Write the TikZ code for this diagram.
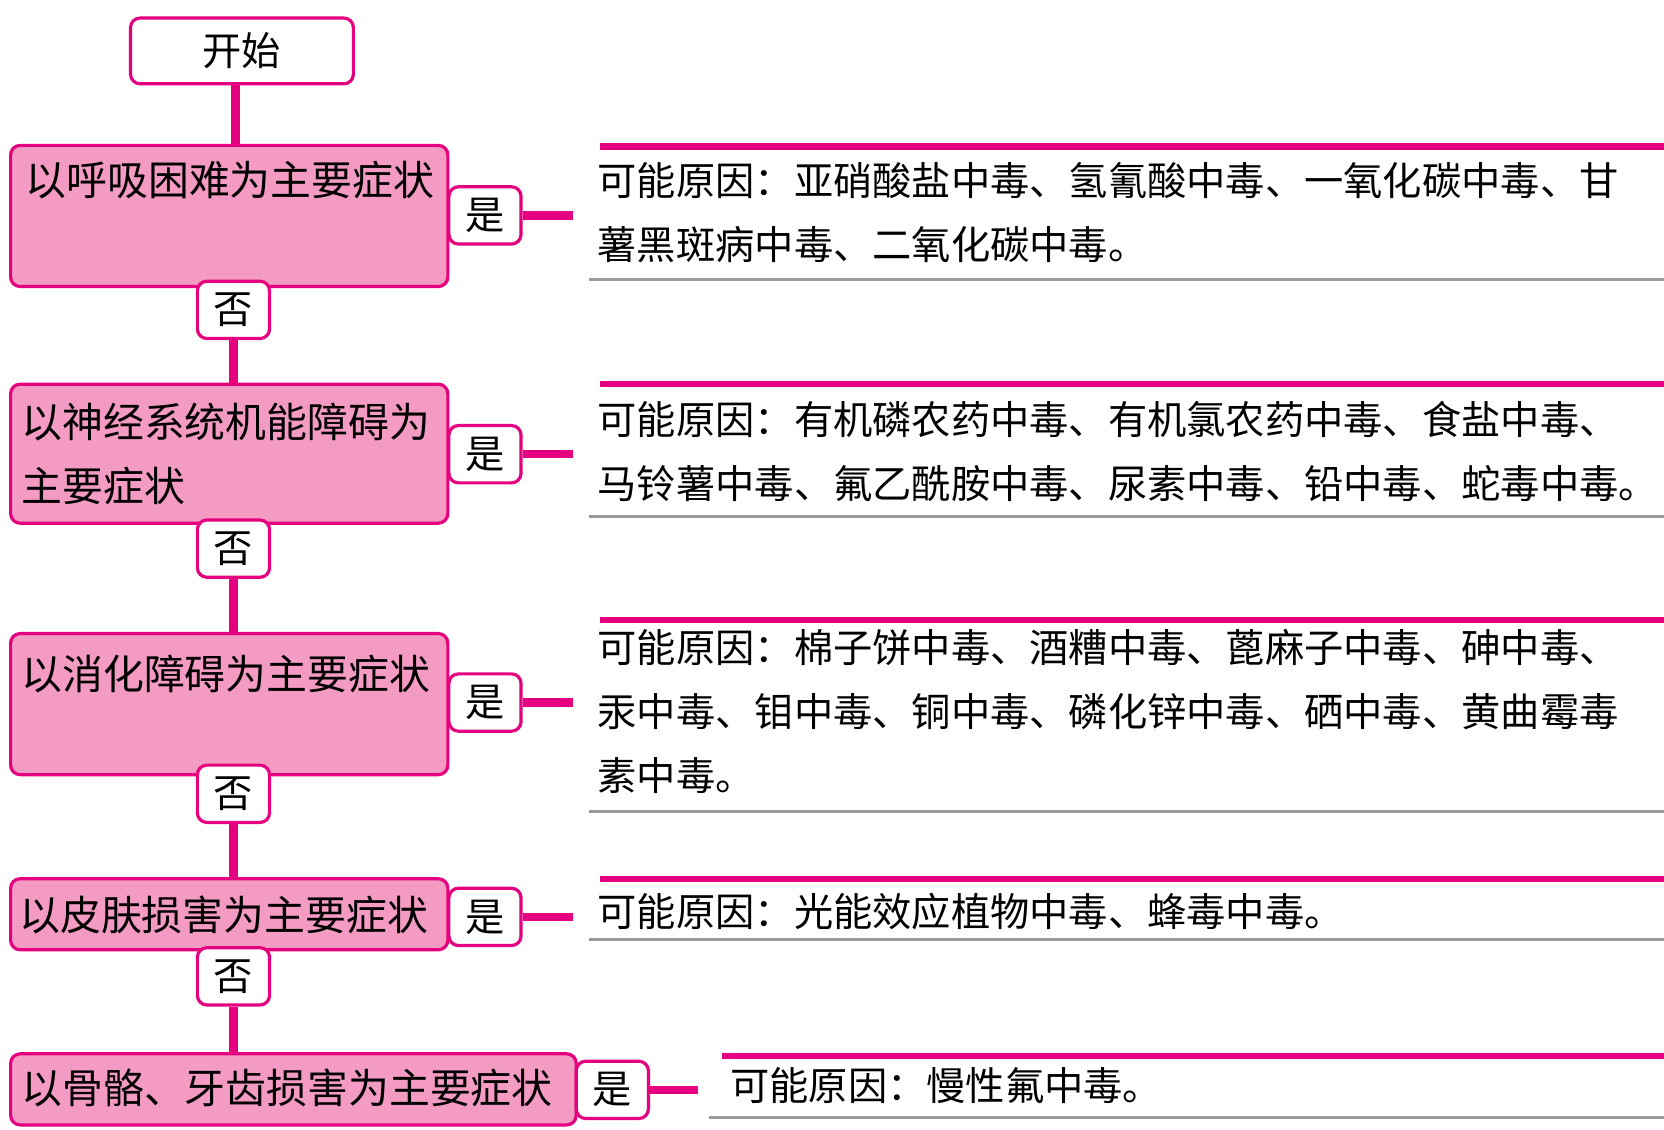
\documentclass[tikz,border=0pt]{standalone}
\usepackage{fontspec}
\setmainfont{Noto Sans CJK SC}
\definecolor{mag}{HTML}{E4007F}
\definecolor{pk}{HTML}{F39BC2}
\definecolor{gr}{HTML}{9A9A9A}
\begin{document}
\begin{tikzpicture}[x=1pt,y=-1pt,
  box/.style={draw=mag,line width=3pt,rounded corners=9pt,fill=pk},
  tag/.style={draw=mag,line width=3pt,rounded corners=9pt,fill=white,minimum width=68pt,minimum height=54pt,inner sep=0pt,font=\fontsize{37}{40}\selectfont},
  conn/.style={mag,line width=8pt},
  txt/.style={anchor=west,inner sep=0pt,font=\fontsize{38.5}{40}\selectfont},
  ptxt/.style={anchor=north west,inner sep=0pt,align=left,font=\fontsize{37}{60}\selectfont},
  topl/.style={mag,line width=6pt},
  botl/.style={gr,line width=3pt}]
\useasboundingbox (0,0) rectangle (1568,1064);
% start
\node[tag,minimum width=210pt,minimum height=62pt] (s) at (228,48) {开始};
% boxes
\draw[box] (10,137) rectangle (422,270); \coordinate (b1t) at (222,137);
\draw[box] (10,362) rectangle (422,493); \coordinate (b2t) at (222,362);
\draw[box] (10,597) rectangle (422,730); \coordinate (b3t) at (222,597);
\draw[box] (10,828) rectangle (422,895); \coordinate (b4t) at (222,828);
\draw[box] (10,993) rectangle (543,1060); \coordinate (b5t) at (222,993);
\node[txt] (t1) at (24,170) {以呼吸困难为主要症状};
\node[txt] (t2) at (20,398) {以神经系统机能障碍为};
\node[txt] (t2b) at (20,458) {主要症状};
\node[txt] (t3) at (20,635) {以消化障碍为主要症状};
\node[txt] (t4) at (18,862) {以皮肤损害为主要症状};
\node[txt] (t5) at (20,1025) {以骨骼、牙齿损害为主要症状};
% no tags
\node[tag] (n1) at (220,292) {否};
\node[tag] (n2) at (220,517) {否};
\node[tag] (n3) at (220,748) {否};
\node[tag] (n4) at (220,920) {否};
\draw[conn] (s.south -| b1t) -- (b1t);
\draw[conn] (n1.south) -- (n1.south |- b2t);
\draw[conn] (n2.south) -- (n2.south |- b3t);
\draw[conn] (n3.south) -- (n3.south |- b4t);
\draw[conn] (n4.south) -- (n4.south |- b5t);
% yes tags
\node[tag] (y1) at (457,203) {是};
\node[tag] (y2) at (457,428) {是};
\node[tag] (y3) at (457,662) {是};
\node[tag] (y4) at (457,864) {是};
\node[tag] (y5) at (577,1027) {是};
\coordinate (e1) at (540,203); \coordinate (e2) at (540,428);
\coordinate (e3) at (540,662); \coordinate (e4) at (540,864);
\coordinate (e5) at (658,1027);
\draw[conn] (y1.east) -- (e1);
\draw[conn] (y2.east) -- (e2);
\draw[conn] (y3.east) -- (e3);
\draw[conn] (y4.east) -- (e4);
\draw[conn] (y5.east) -- (e5);
% panels
\draw[topl] (565,138) -- (1568,138); \draw[botl] (555,263) -- (1568,263);
\node[ptxt] (p1) at (563,153) {可能原因：亚硝酸盐中毒、氢氰酸中毒、一氧化碳中毒、甘\\薯黑斑病中毒、二氧化碳中毒。};
\draw[topl] (565,362) -- (1568,362); \draw[botl] (555,487) -- (1568,487);
\node[ptxt] (p2) at (563,378) {可能原因：有机磷农药中毒、有机氯农药中毒、食盐中毒、\\马铃薯中毒、氟乙酰胺中毒、尿素中毒、铅中毒、蛇毒中毒。};
\draw[topl] (565,584) -- (1568,584); \draw[botl] (555,765) -- (1568,765);
\node[ptxt] (p3) at (563,593) {可能原因：棉子饼中毒、酒糟中毒、蓖麻子中毒、砷中毒、\\汞中毒、钼中毒、铜中毒、磷化锌中毒、硒中毒、黄曲霉毒\\素中毒。};
\draw[topl] (565,828) -- (1568,828); \draw[botl] (555,885) -- (1568,885);
\node[ptxt] (p4) at (563,841) {可能原因：光能效应植物中毒、蜂毒中毒。};
\draw[topl] (680,995) -- (1568,995); \draw[botl] (668,1053) -- (1568,1053);
\node[ptxt] (p5) at (688,1006) {可能原因：慢性氟中毒。};
\end{tikzpicture}
\end{document}
